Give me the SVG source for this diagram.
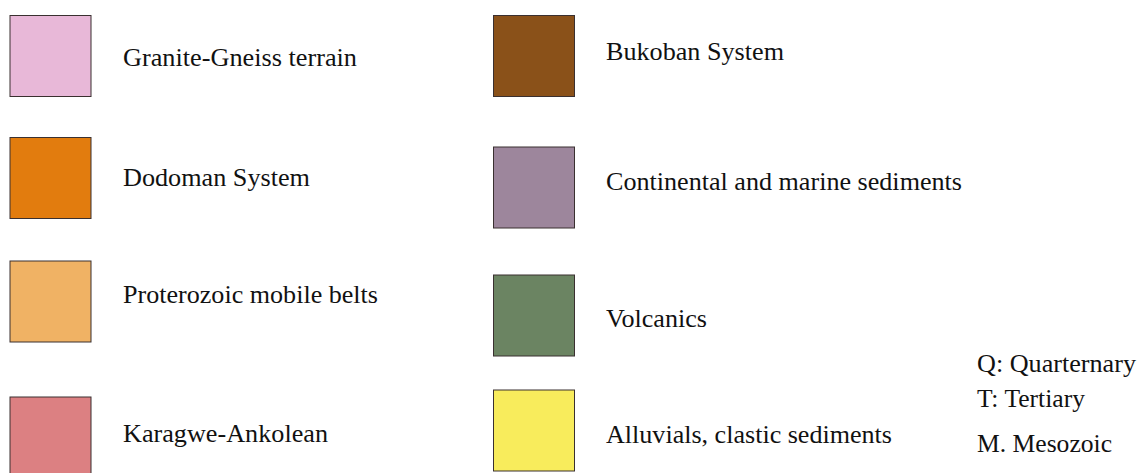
<svg xmlns="http://www.w3.org/2000/svg" width="1139" height="473" viewBox="0 0 1139 473">
<style>
.sw{stroke:#3a3030;stroke-width:1}
</style>
<rect width="1139" height="473" fill="#ffffff"/>
<g font-family="Liberation Serif" font-size="25" fill="#111">
<g id="granite"><rect class="sw" x="10" y="15.5" width="81" height="81" fill="#E8B8D8"/><text x="123" y="65.5" textLength="234" lengthAdjust="spacingAndGlyphs">Granite-Gneiss terrain</text></g>
<g id="dodoman"><rect class="sw" x="10" y="137.5" width="81" height="81" fill="#E27C0E"/><text x="123" y="186" textLength="187" lengthAdjust="spacingAndGlyphs">Dodoman System</text></g>
<g id="proterozoic"><rect class="sw" x="10" y="261" width="81" height="81" fill="#F0B264"/><text x="123" y="303" textLength="255" lengthAdjust="spacingAndGlyphs">Proterozoic mobile belts</text></g>
<g id="karagwe"><rect class="sw" x="10" y="397" width="81" height="82" fill="#DC8082"/><text x="123" y="442" textLength="205" lengthAdjust="spacingAndGlyphs">Karagwe-Ankolean</text></g>
<g id="bukoban"><rect class="sw" x="493.5" y="15.5" width="81" height="81" fill="#8A5119"/><text x="606" y="60" textLength="178" lengthAdjust="spacingAndGlyphs">Bukoban System</text></g>
<g id="continental"><rect class="sw" x="493.5" y="147" width="81" height="81" fill="#9D869C"/><text x="606" y="190" textLength="356" lengthAdjust="spacingAndGlyphs">Continental and marine sediments</text></g>
<g id="volcanics"><rect class="sw" x="493.5" y="275" width="81" height="81" fill="#6B8462"/><text x="606" y="327" textLength="101" lengthAdjust="spacingAndGlyphs">Volcanics</text></g>
<g id="alluvials"><rect class="sw" x="493.5" y="390" width="81" height="81" fill="#F8EC5C"/><text x="606" y="443" textLength="286" lengthAdjust="spacingAndGlyphs">Alluvials, clastic sediments</text></g>
<g id="ages">
<text x="977" y="372" textLength="159" lengthAdjust="spacingAndGlyphs">Q: Quarternary</text>
<text x="977" y="407" textLength="108" lengthAdjust="spacingAndGlyphs">T: Tertiary</text>
<text x="977" y="452" textLength="135" lengthAdjust="spacingAndGlyphs">M. Mesozoic</text>
</g>
</g>
<g id="connectors"></g>
</svg>
